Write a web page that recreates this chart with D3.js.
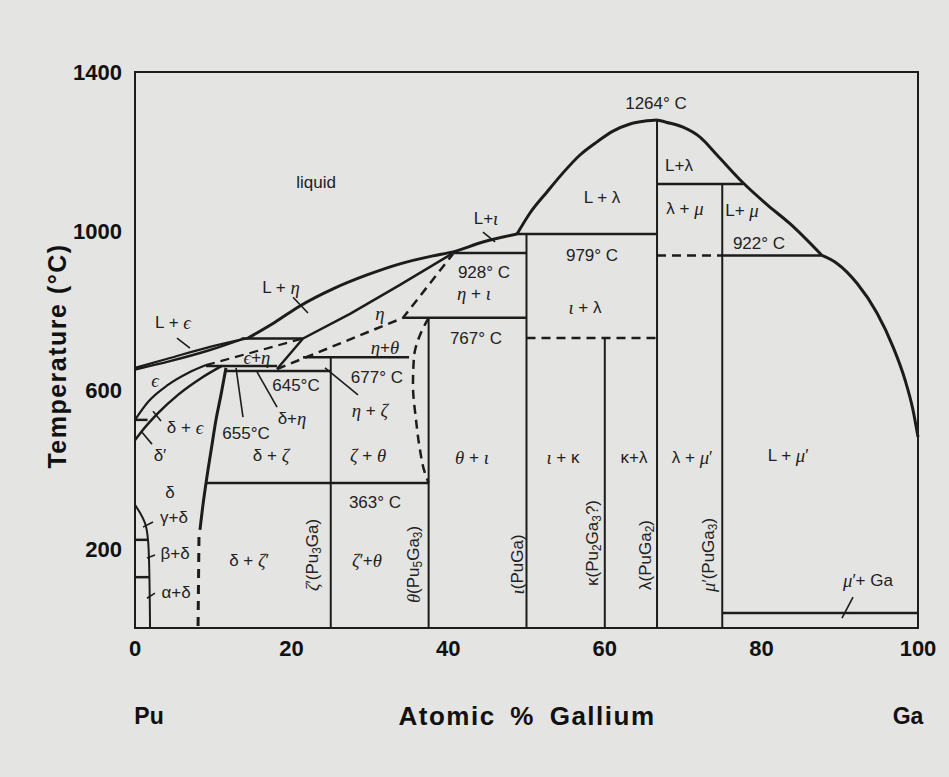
<!DOCTYPE html>
<html><head><meta charset="utf-8">
<script src="https://cdn.jsdelivr.net/npm/d3@7"></script>
<style>body{margin:0;background:#e4e4e2}</style>
</head><body>
<svg id="c" width="949" height="777"></svg>
<script>
// ---------- data (atomic % Ga, temperature °C) ----------
const xTickValues = [0, 20, 40, 60, 80, 100];
const yTickValues = [200, 600, 1000, 1400];

const epsLiquidus = [[0,655],[4.47,680],[9.58,708],[14.43,730]];
const epsSolidus  = [[0,651],[4.47,672],[9.58,700],[13.6,727]];
const etaIotaLiquidus = [[14.43,730],[17.88,770],[21.07,811],[25.29,854],[29.63,889],[33.84,917],[38.06,937],[40.61,947],[44.44,972],[48.79,992]];
const lambdaLiquidusLeft = [[48.79,992],[50.45,1045],[52.62,1098],[54.66,1146],[56.83,1191],[59.0,1224],[61.05,1251],[63.22,1269],[65.39,1277],[66.67,1279]];
const lambdaLiquidusRight = [[66.67,1279],[67.94,1273],[69.99,1261],[72.16,1236],[74.33,1191],[77.65,1121],[80.72,1066],[83.65,1018],[87.74,938]];
const muLiquidus = [[87.74,938],[89.66,918],[92.21,868],[94.76,793],[96.81,708],[98.34,625],[99.36,549],[100,481]];
const epsLowerBoundary = [[0,524],[1.66,569],[4.21,612],[6.77,642],[9.07,662]];
const deltaUpperBoundary = [[0,473],[0.77,493],[2.94,541],[5.49,587],[8.43,629],[11.1,660]];
const deltaSolvus = [[11.62,655],[10.98,587],[10.34,524],[9.83,461],[9.32,398],[9.07,365],[8.68,310],[8.30,247]];
const deltaSolvusDashed = [[8.17,229],[8.05,0]];
const puSideDelta = [[0,310],[0.64,290],[1.28,264],[1.66,222],[1.79,171],[1.92,0]];
const etaSolidus = [[18.14,652],[21.46,729],[27.46,791],[33.84,864],[40.61,944]];
const etaLowerDashed = [[18.14,652],[34.23,781],[40.61,942]];
const epsEtaDashed = [[9.07,662],[21.46,729]];
const thetaDashed = [[37.5,781],[36.4,738],[35.63,682],[35.5,612],[35.89,524],[36.4,448],[36.91,398],[37.5,365]];

// isotherms: [from %, to %, °C]
const solidIsotherms = [[48.79,66.67,992],[40.2,50,944],[34.23,50,781],[66.67,77.65,1118],[75,87.74,938],
  [21.46,35.0,682],[9.07,18.14,660],[11.62,25,647],[9.07,37.5,365],[13.6,21.46,729],[75,100,38],
  [0,1.66,222],[0,1.82,128],[0,1.6,524]];
const dashedIsotherms = [[50,66.67,730],[66.67,75,938]];

// line compounds: [%, top °C]
const compounds = [[25,682],[37.5,781],[50,992],[60,730],[66.67,1279],[75,1118]];

// leader lines
const pointers = [
  [[5.36,730],[7.02,705]], [[20.18,833],[22.09,793]], [[44.44,997],[45.98,972]],
  [[13.79,531],[12.9,655]], [[18.14,556],[15.58,645]], [[28.48,587],[24.27,655]],
  [[2.30,546],[3.32,521]], [[0.89,493],[2.17,463]], [[1.02,254],[2.30,267]],
  [[1.53,176],[2.55,184]], [[1.53,75],[2.55,88]], [[90.29,25],[91.7,78]]
];

// phase labels: [text, %, °C, rotated]
const labels = [
  ["liquid",23.12,1123], ["L + η",18.65,858], ["L + ϵ",4.85,770], ["ϵ",2.55,624],
  ["ϵ+η",15.58,682], ["δ + ϵ",6.39,506], ["δ′",3.19,435], ["655°C",14.18,491],
  ["645°C",20.56,612], ["δ+η",20.05,529], ["δ + ζ",17.37,435], ["δ",4.47,342],
  ["γ+δ",4.98,279], ["β+δ",5.11,189], ["α+δ",5.24,90], ["δ + ζ′",14.56,171],
  ["ζ′(Pu_3Ga)",22.6,184,true], ["ζ + θ",29.76,435], ["363° C",30.65,317], ["ζ′+θ",29.63,171],
  ["θ(Pu_5Ga_3)",35.5,160,true], ["η + ζ",30.01,549], ["677° C",30.9,632], ["η+θ",31.93,707],
  ["η",31.29,793], ["θ + ι",43.04,430], ["767° C",43.55,730], ["η + ι",43.3,843],
  ["928° C",44.57,896], ["L+ι",44.83,1032], ["ι(PuGa)",48.79,160,true], ["ι + κ",54.66,430],
  ["κ(Pu_2Ga_3?)",58.37,214,true], ["κ+λ",63.73,430], ["λ(PuGa_2)",65.13,184,true],
  ["ι + λ",57.47,808], ["979° C",58.37,939], ["L + λ",59.64,1085], ["1264° C",66.54,1322],
  ["L+λ",69.48,1166], ["λ + μ",70.24,1057], ["L+ μ",77.52,1052], ["922° C",79.69,969],
  ["λ + μ′",71.14,430], ["μ′(PuGa_3)",73.18,184,true], ["L + μ′",83.4,435], ["μ′+ Ga",93.61,121]
];

// ---------- drawing ----------
const svg = d3.select("#c");
svg.append("rect").attr("width",949).attr("height",777).attr("fill","#e4e4e2");
const X = d3.scaleLinear().domain([0,100]).range([135,918]);
const Y = d3.scaleLinear().domain([0,1400]).range([628,72]);
const INK = "#1c1c1c";

const lineGen = c => d3.line().x(d=>X(d[0])).y(d=>Y(d[1])).curve(c);
function path(data, curve, w, dash) {
  svg.append("path").attr("d", lineGen(curve)(data)).attr("fill","none")
    .attr("stroke",INK).attr("stroke-width",w).attr("stroke-linejoin","round")
    .attr("stroke-dasharray",dash||null);
}

// frame
svg.append("rect").attr("x",X(0)).attr("y",Y(1400)).attr("width",X(100)-X(0)).attr("height",Y(0)-Y(1400))
  .attr("fill","none").attr("stroke",INK).attr("stroke-width",2);

compounds.forEach(([x,t]) => path([[x,0],[x,t]], d3.curveLinear, 2));
solidIsotherms.forEach(([a,b,t]) => path([[a,t],[b,t]], d3.curveLinear, 2.5));
dashedIsotherms.forEach(([a,b,t]) => path([[a,t],[b,t]], d3.curveLinear, 2.5, "9,6"));

path(epsLiquidus, d3.curveMonotoneX, 2.2);
path(epsSolidus, d3.curveMonotoneX, 2.4);
path(etaIotaLiquidus, d3.curveMonotoneX, 3);
path(lambdaLiquidusLeft, d3.curveMonotoneX, 3);
path(lambdaLiquidusRight, d3.curveMonotoneX, 3);
path(muLiquidus, d3.curveMonotoneX, 3);
path(epsLowerBoundary, d3.curveMonotoneX, 2.2);
path(deltaUpperBoundary, d3.curveMonotoneX, 2.5);
path(deltaSolvus, d3.curveMonotoneY, 3);
path(deltaSolvusDashed, d3.curveLinear, 3, "9,7");
path(puSideDelta, d3.curveMonotoneY, 2);
path(etaSolidus, d3.curveLinear, 2.5);
path(etaLowerDashed, d3.curveLinear, 2.5, "9,6");
path(epsEtaDashed, d3.curveLinear, 2.2, "9,6");
path(thetaDashed, d3.curveMonotoneY, 2.5, "9,6");

pointers.forEach(p => path(p, d3.curveLinear, 1.6));

// rich text helper: _x subscript, Greek italic
const italicGreek = /[θζηιμϵε]/;
function rich(textSel, str, size) {
  const parts = [];
  for (let i = 0; i < str.length; i++) {
    let ch = str[i], shift = 0;
    if (ch === "_") { ch = str[++i]; shift = 1; }
    const it = italicGreek.test(ch);
    const last = parts[parts.length-1];
    if (last && last.it === it && last.shift === shift) last.t += ch;
    else parts.push({t: ch, it, shift});
  }
  let cur = 0;
  parts.forEach(p => {
    const target = p.shift === 1 ? size*0.3 : 0;
    const ts = textSel.append("tspan").text(p.t).attr("dy", target - cur);
    cur = target;
    if (p.shift !== 0) ts.attr("font-size", size*0.7);
    if (p.it) ts.attr("font-style","italic").attr("font-family","'Liberation Serif','DejaVu Serif',serif").attr("font-size", size*1.1);
  });
}

labels.forEach(([s, px, t, rot]) => {
  const size = 17;
  const g = svg.append("text").attr("font-family","'Liberation Sans',Arial,sans-serif")
    .attr("font-size",size).attr("fill","#222").attr("text-anchor","middle")
    .attr("dominant-baseline","central");
  if (rot) g.attr("transform",`translate(${X(px)},${Y(t)}) rotate(-90)`);
  else g.attr("x",X(px)).attr("y",Y(t));
  rich(g, s, size);
});

const bold = "'Liberation Sans',Arial,sans-serif";
xTickValues.forEach(v => svg.append("text").attr("x",X(v)).attr("y",656)
  .attr("text-anchor","middle").attr("font-family",bold).attr("font-weight","bold")
  .attr("font-size",22).attr("fill","#111").text(v));
yTickValues.forEach(v => svg.append("text").attr("x",X(0)-13).attr("y",Y(v)+8)
  .attr("text-anchor","end").attr("font-family",bold).attr("font-weight","bold")
  .attr("font-size",22).attr("fill","#111").text(v));

svg.append("text").attr("transform","translate(66,356) rotate(-90)").attr("text-anchor","middle")
  .attr("font-family",bold).attr("font-weight","bold").attr("font-size",25)
  .attr("letter-spacing",1.5).attr("fill","#111").text("Temperature (°C)");
svg.append("text").attr("x",149).attr("y",724).attr("text-anchor","middle").attr("font-family",bold)
  .attr("font-weight","bold").attr("font-size",23).attr("fill","#111").text("Pu");
svg.append("text").attr("x",527).attr("y",725).attr("text-anchor","middle").attr("font-family",bold)
  .attr("font-weight","bold").attr("font-size",26).attr("letter-spacing",1.5).attr("word-spacing",6)
  .attr("fill","#111").text("Atomic % Gallium");
svg.append("text").attr("x",908).attr("y",724).attr("text-anchor","middle").attr("font-family",bold)
  .attr("font-weight","bold").attr("font-size",23).attr("fill","#111").text("Ga");
</script>
</body></html>
